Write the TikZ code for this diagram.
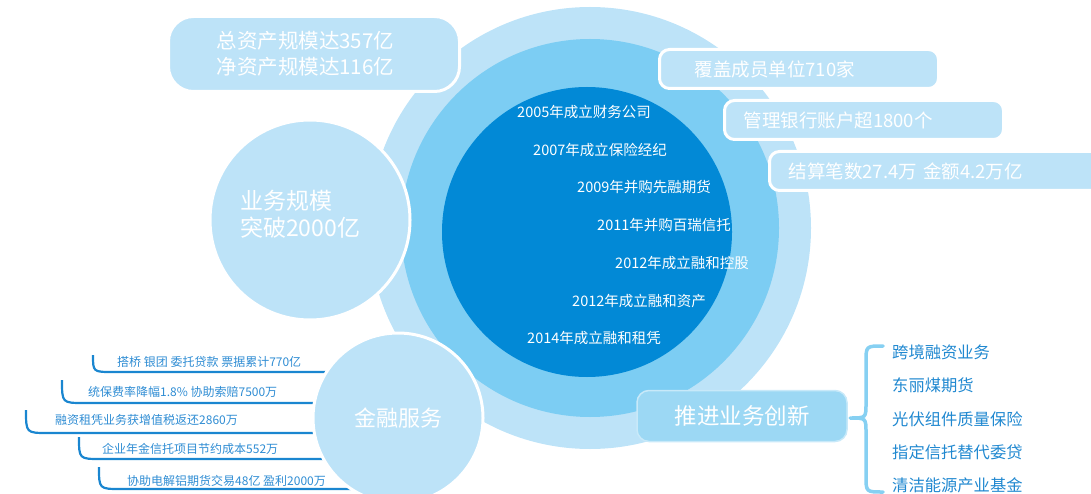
\documentclass[tikz,border=0pt]{standalone}
\usepackage{fontspec}
\setmainfont{Noto Sans CJK SC}
\definecolor{ringA}{HTML}{BDE3F8}
\definecolor{ringB}{HTML}{7CCDF3}
\definecolor{ringC}{HTML}{0289D6}
\definecolor{pushfill}{HTML}{9CD8F4}
\definecolor{pushedge}{HTML}{C8E9F9}
\definecolor{listtext}{HTML}{2E8CD3}
\definecolor{listline}{HTML}{1A86D0}
\definecolor{rtext}{HTML}{2088D0}
\definecolor{braceC}{HTML}{86D0F2}
\begin{document}
\begin{tikzpicture}[x=1pt,y=-1pt,
  ringfill/.style={circle, inner sep=0, draw=none},
  bubble/.style={circle, inner sep=0, fill=ringA, draw=white, line width=3pt, text=white},
  infobox/.style={rectangle, rounded corners=10pt, fill=ringA, draw=white, line width=3pt, text=white, font=\fontsize{18.5}{22}\selectfont, align=left, anchor=north west, inner ysep=0pt},
  tline/.style={text=white, font=\fontsize{14.5}{17}\selectfont, anchor=west, inner sep=0pt},
  litem/.style={text=listtext, font=\fontsize{12}{14}\selectfont, anchor=west, inner sep=0pt},
  lline/.style={draw=listline, line width=2.2pt},
  ritem/.style={text=rtext, font=\fontsize{16.3}{19}\selectfont, anchor=west, inner sep=0pt},
  brace/.style={draw=braceC, line width=3.5pt, line cap=round, line join=round},
]
\useasboundingbox (0,0) rectangle (1091,494);

% concentric circles
\node[ringfill, fill=ringA, minimum size=442pt] (outer) at (590,228) {};
\node[ringfill, fill=ringB, minimum size=378pt] (middle) at (590,228) {};
\node[ringfill, fill=ringC, minimum size=290pt] (inner) at (587,232) {};

% timeline
\node[tline] (t1) at (517,112) {2005年成立财务公司};
\node[tline] (t2) at (533,150) {2007年成立保险经纪};
\node[tline] (t3) at (577,187) {2009年并购先融期货};
\node[tline] (t4) at (597,225) {2011年并购百瑞信托};
\node[tline] (t5) at (615,263) {2012年成立融和控股};
\node[tline] (t6) at (572,301) {2012年成立融和资产};
\node[tline] (t7) at (527,338) {2014年成立融和租凭};

% business scale bubble
\node[bubble, minimum size=200pt] (scale) at (310,220) {};
\node[text=white, align=left, anchor=west, inner sep=0pt, font=\fontsize{23}{27}\selectfont] (scaletxt) at (240,214) {业务规模\\突破2000亿};

% left list with underlines
\node[litem] (l1) at (117,362) {搭桥 银团 委托贷款 票据累计770亿};
\node[litem] (l2) at (88,392) {统保费率降幅1.8\% 协助索赔7500万};
\node[litem] (l3) at (55,420) {融资租凭业务获增值税返还2860万};
\node[litem] (l4) at (102,449) {企业年金信托项目节约成本552万};
\node[litem] (l5) at (127,481) {协助电解铝期货交易48亿 盈利2000万};

\coordinate (f) at (398,418);
\coordinate (a1) at (93,355); \coordinate (c1) at (93,372); \coordinate (b1) at (113,372);
\coordinate (a2) at (62,380); \coordinate (c2) at (62,403); \coordinate (b2) at (84,403);
\coordinate (a3) at (26,410); \coordinate (c3) at (26,433); \coordinate (b3) at (48,433);
\coordinate (a4) at (79,437); \coordinate (c4) at (79,459); \coordinate (b4) at (101,459);
\coordinate (a5) at (99,467); \coordinate (c5) at (99,489); \coordinate (b5) at (121,489);
\draw[lline] (a1) .. controls (c1) .. (b1) -- (b1 -| f);
\draw[lline] (a2) .. controls (c2) .. (b2) -- (b2 -| f);
\draw[lline] (a3) .. controls (c3) .. (b3) -- (b3 -| f);
\draw[lline] (a4) .. controls (c4) .. (b4) -- (b4 -| f);
\draw[lline] (a5) .. controls (c5) .. (b5) -- (b5 -| f);

\node[bubble, minimum size=170pt, font=\fontsize{22}{26}\selectfont] (fin) at (f) {金融服务};

% top-left box
\node[infobox, rounded corners=25pt, minimum width=291pt, minimum height=75pt, inner xsep=48pt, text width=195pt, font=\fontsize{20.5}{26}\selectfont] (assets) at (167,15) {总资产规模达357亿\\净资产规模达116亿};

% right boxes
\node[infobox, minimum width=279pt, minimum height=39pt, inner xsep=35pt, text width=209pt] (m1) at (658,48) {覆盖成员单位710家};
\node[infobox, minimum width=279pt, minimum height=39pt, inner xsep=19pt, text width=241pt] (m2) at (723,99) {管理银行账户超1800个};
\node[infobox, minimum width=340pt, minimum height=39pt, inner xsep=19pt, text width=302pt] (m3) at (768,150) {结算笔数27.4万 金额4.2万亿};

% innovation box
\node[rectangle, rounded corners=12pt, fill=pushfill, draw=pushedge, line width=1.5pt, minimum width=210pt, minimum height=51pt, text=white, font=\fontsize{22.5}{26}\selectfont] (push) at (742,416) {推进业务创新};

% brace
\coordinate (br0) at (883,346); \coordinate (brc0) at (866,346); \coordinate (br1) at (866,362);
\coordinate (br2) at (866,403); \coordinate (brc1) at (866,418); \coordinate (tip) at (850,418);
\coordinate (br3) at (866,433); \coordinate (br4) at (866,476); \coordinate (brc2) at (866,492);
\coordinate (br5) at (883,492);
\draw[brace] (br0) .. controls (brc0) .. (br1) -- (br2) .. controls (brc1) .. (tip) .. controls (brc1) .. (br3) -- (br4) .. controls (brc2) .. (br5);

% right list
\node[ritem] (r1) at (892,352) {跨境融资业务};
\node[ritem] (r2) at (892,385) {东丽煤期货};
\node[ritem] (r3) at (892,419) {光伏组件质量保险};
\node[ritem] (r4) at (892,452) {指定信托替代委贷};
\node[ritem] (r5) at (892,485) {清洁能源产业基金};
\end{tikzpicture}
\end{document}
